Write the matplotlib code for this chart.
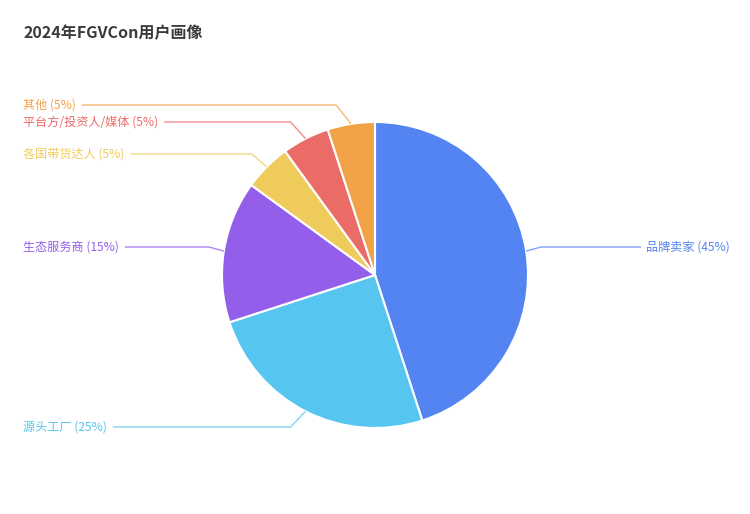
import numpy as np
import matplotlib
matplotlib.use("Agg")
import matplotlib.pyplot as plt

plt.rcParams["font.family"] = ["Noto Sans CJK SC", "DejaVu Sans"]

title = "2024年FGVCon用户画像"
categories = ["品牌卖家", "源头工厂", "生态服务商", "各国带货达人", "平台方/投资人/媒体", "其他"]
shares = [45, 25, 15, 5, 5, 5]
colors = ["#5384F2", "#56C6F0", "#925EEA", "#EECB5A", "#EB6B67", "#F2A246"]

# layout (pixel coordinates, y measured from the top)
W, H = 750, 514
cx, cy, radius = 375, 275, 153
label_y = [247, 427, 247, 154, 122, 105]
left_x, right_x = 23, 646

fig = plt.figure(figsize=(W / 100, H / 100), dpi=100)
ax = fig.add_axes([0, 0, 1, 1])

ax.pie(
    shares,
    colors=colors,
    startangle=90,
    counterclock=False,
    center=(cx, H - cy),
    radius=radius,
    wedgeprops=dict(edgecolor="white", linewidth=1.5),
    frame=True,
)
ax.set_xlim(0, W)
ax.set_ylim(0, H)
ax.axis("off")

fig.text(left_x / W, 1 - 33 / H, title, fontsize=11.5, fontweight="bold",
         color="#3a3a3a", va="center", ha="left")

renderer = fig.canvas.get_renderer()
total = sum(shares)
start = 0.0
for name, val, col, ly in zip(categories, shares, colors, label_y):
    mid = (start + val / 2) / total * 2 * np.pi
    start += val
    ex = cx + radius * np.sin(mid)
    ey = cy - radius * np.cos(mid)
    text = f"{name} ({val}%)"
    if ex > cx:
        elbow_x = ex + 15
        ax.text(right_x, H - ly, text, fontsize=8.7, color=col,
                ha="left", va="center")
        line_end = right_x - 5
    else:
        elbow_x = ex - 15
        t = ax.text(left_x, H - ly, text, fontsize=8.7, color=col,
                    ha="left", va="center")
        bb = t.get_window_extent(renderer=renderer)
        line_end = bb.x1 + 6
    ax.plot([ex, elbow_x, line_end], [H - ey, H - ly, H - ly],
            color=col, linewidth=1, alpha=0.75, solid_capstyle="butt")

fig.savefig("out.png", dpi=100, facecolor="white")
